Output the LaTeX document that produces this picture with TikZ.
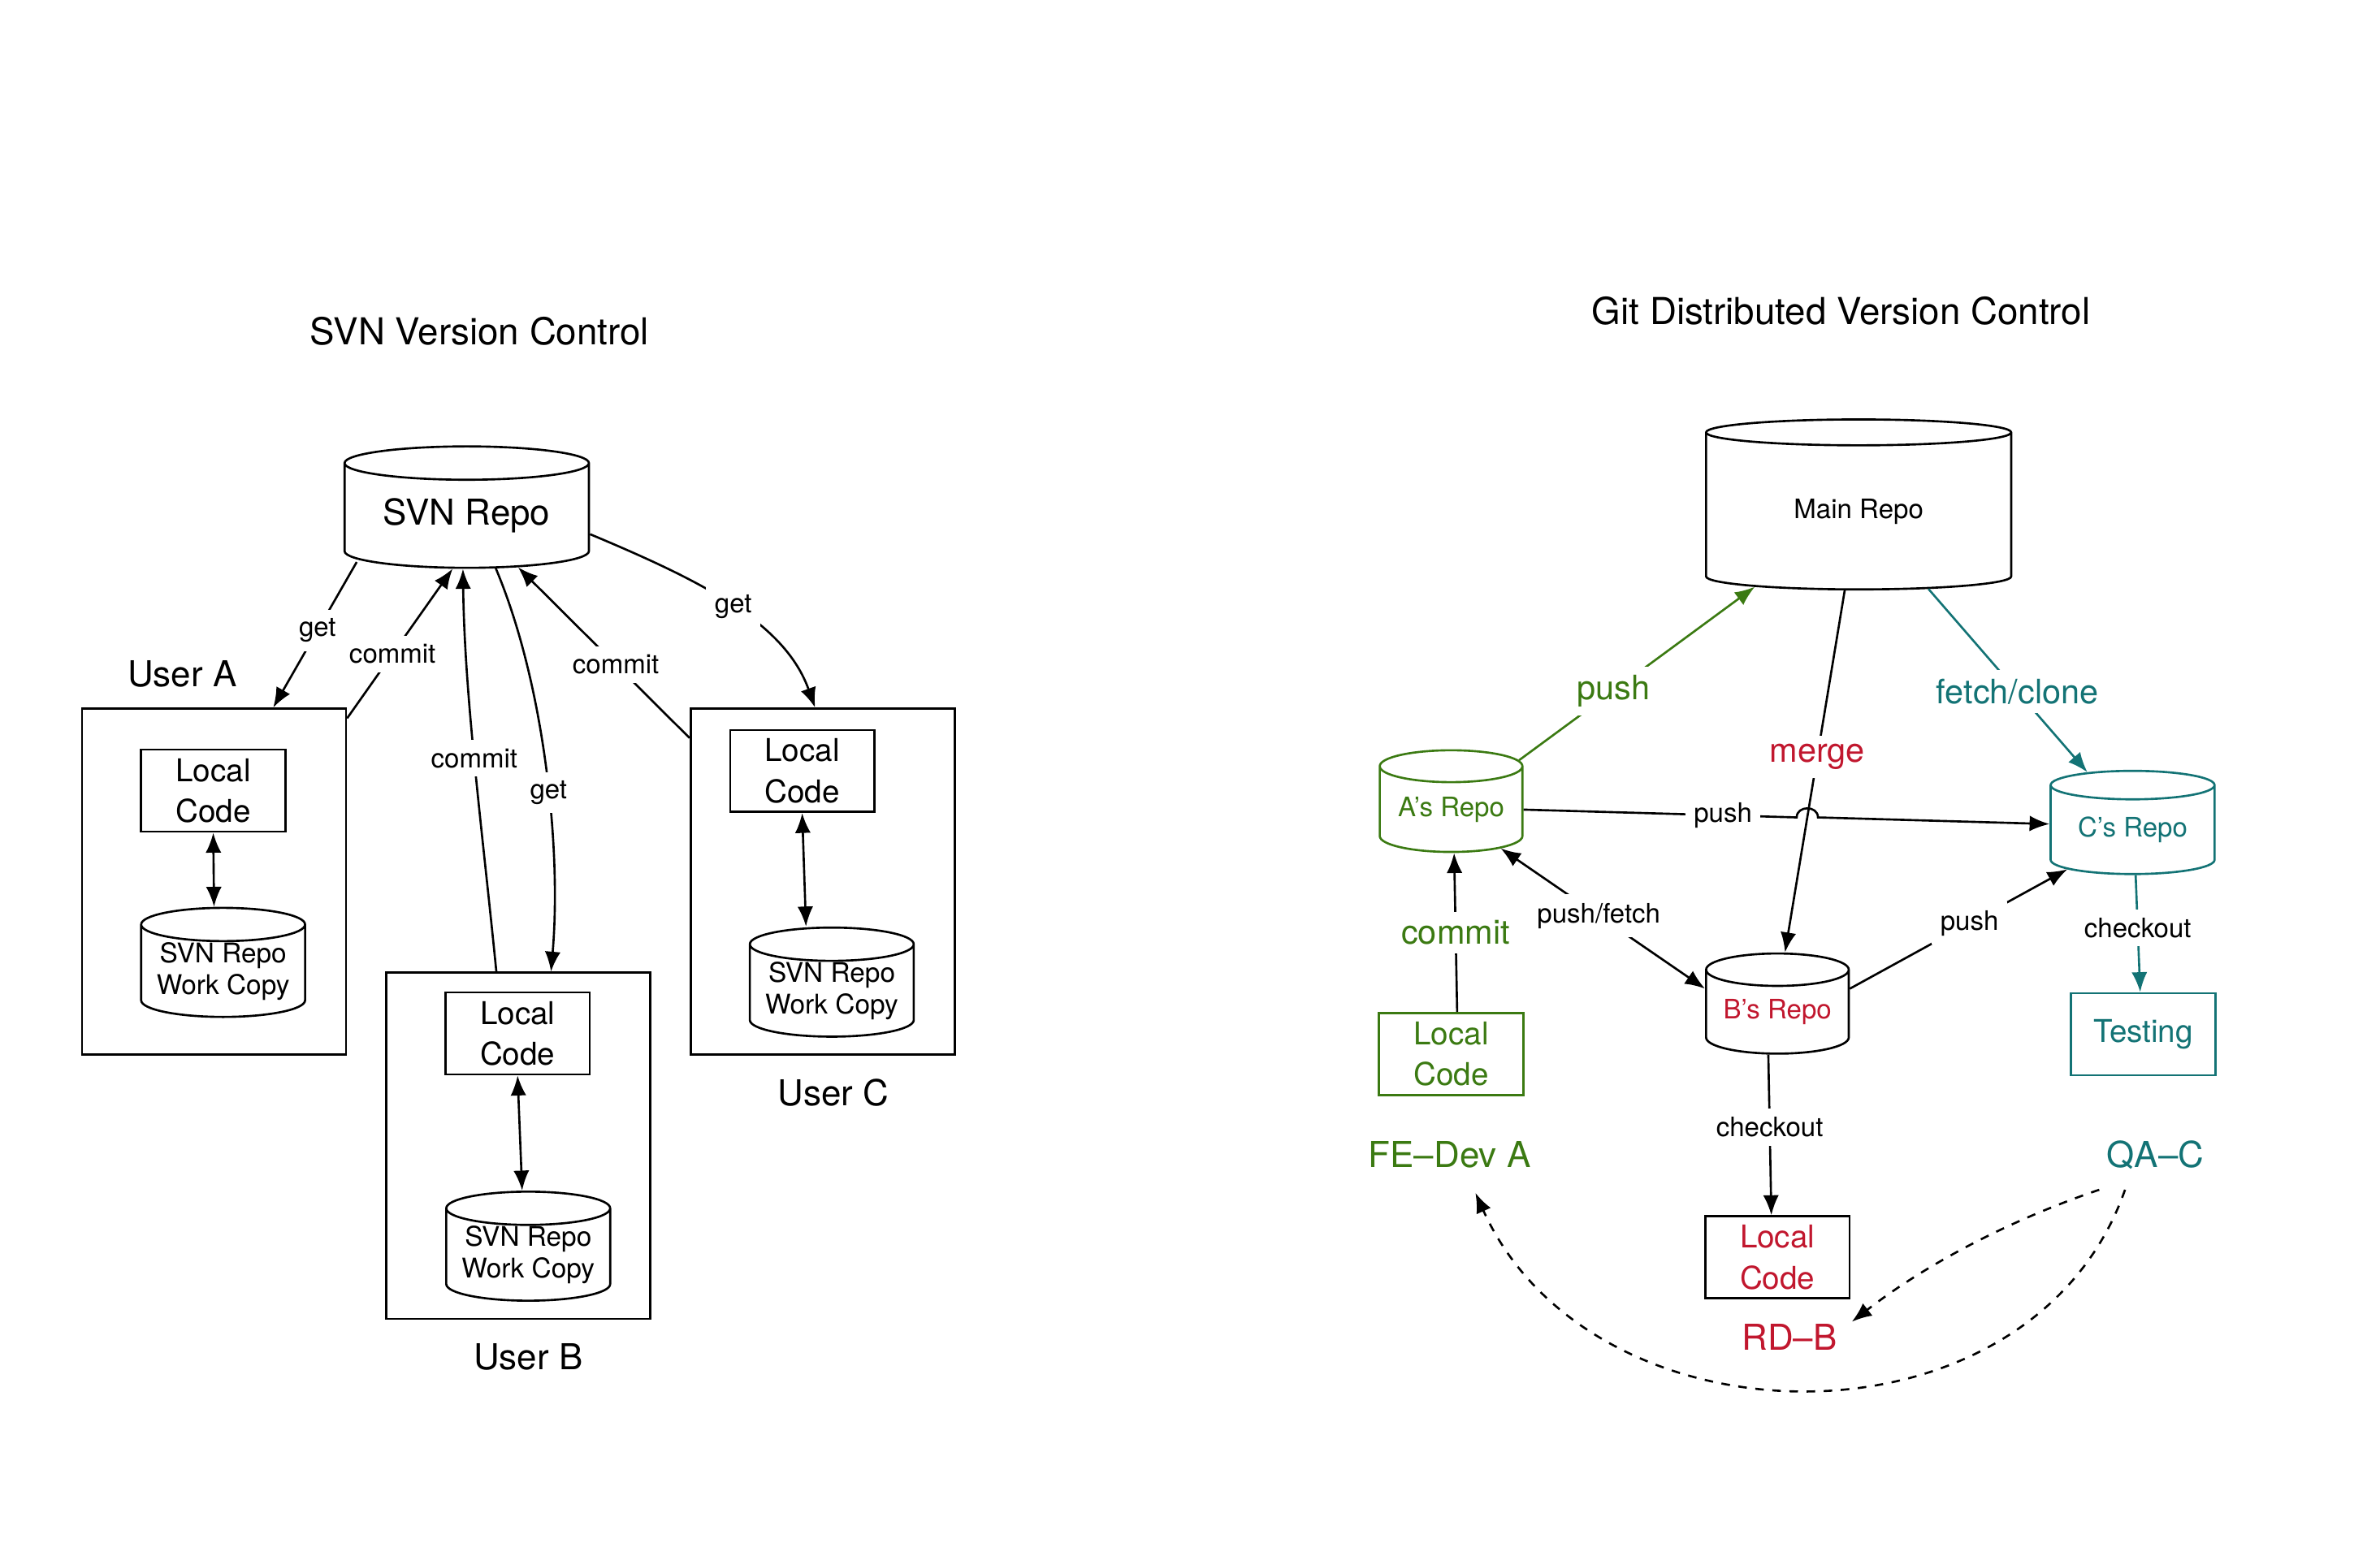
\documentclass[tikz,border=0pt]{standalone}
\usepackage{fontspec}
\setmainfont{TeX Gyre Heros}
\usetikzlibrary{arrows.meta,shapes.geometric,calc}

\definecolor{fegreen}{RGB}{59,122,18}
\definecolor{qateal}{RGB}{19,115,117}
\definecolor{rdred}{RGB}{193,23,46}
\newcommand{\pxu}{0.018686cm}
\newcommand{\fsz}[2]{\fontsize{#1}{#2}\selectfont}

\begin{document}
\begin{tikzpicture}[x=0.018686cm, y=-0.018686cm, line width=0.75pt, >={Latex[length=7pt,width=5.5pt]}]
\tikzstyle{every node}=[inner sep=0pt]
\tikzstyle{box}=[draw, rectangle, align=center]
\tikzstyle{repo}=[draw, cylinder, shape border rotate=90, aspect=0.25, align=center]
\tikzstyle{user}=[box, minimum width=174*\pxu, minimum height=228*\pxu]
\tikzstyle{code}=[box, minimum width=95*\pxu, minimum height=54*\pxu, font=\fsz{11}{14.3}]
\tikzstyle{wcopy}=[repo, minimum width=108*\pxu, minimum height=67*\pxu, font=\fsz{9.5}{11.2}]
\tikzstyle{title}=[font=\fsz{13}{16}]
\tikzstyle{big}=[font=\fsz{12.5}{15}]
\tikzstyle{mid}=[font=\fsz{11.8}{14}]
\tikzstyle{small}=[font=\fsz{9.4}{11}]
\tikzstyle{lbl}=[fill=white, inner sep=3pt]
\useasboundingbox (0,0) rectangle (1568,1025);

% SVN side
\node[title] (tsvn) at (316,218) {SVN Version Control};
\node[repo, big, minimum width=161*\pxu, minimum height=80*\pxu, aspect=0.2] (svn) at (307.5,340) {SVN Repo};

\node[user] (ua) at (141,581) {};
\node[user] (ub) at (341.5,755) {};
\node[user] (uc) at (542,581) {};
\node[big] (nua) at (120,444) {User A};
\node[big] (nub) at (348,894) {User B};
\node[big] (nuc) at (549,720) {User C};

\node[code] (lca) at (140.5,521) {Local\\Code};
\node[code] (lcb) at (341,681) {Local\\Code};
\node[code] (lcc) at (528.5,508) {Local\\Code};
\node[wcopy] (wca) at (147,640) {SVN Repo\\Work Copy};
\node[wcopy] (wcb) at (348,827) {SVN Repo\\Work Copy};
\node[wcopy] (wcc) at (548,653) {SVN Repo\\Work Copy};

\draw[<->] (lca.south) -- ($(wca.north)+(-6,0)$);
\draw[<->] (lcb.south) -- ($(wcb.north)+(-4,0)$);
\draw[<->] (lcc.south) -- ($(wcc.north)+(-17,0)$);

\draw[->] ($(svn.south)+(-72.5,-4.5)$) -- node[lbl,small,pos=.47]{get} ($(ua.north)+(39,0)$);
\draw[->] ($(ua.north east)+(0,7)$) -- node[lbl,small,pos=.43]{commit} (svn.255);
\draw[->] ($(ub.north)+(-14.5,0)$) .. controls +(-9,-91) and +(1,84) .. node[lbl,small,pos=.52]{commit} ($(svn.south)+(-2.5,0)$);
\draw[->] (svn.299) .. controls +(32,76) and +(7,-81) .. node[lbl,small,pos=.56]{get} ($(ub.north)+(21.5,0)$);
\draw[->] ($(uc.north west)+(0,20)$) -- node[lbl,small,pos=.43]{commit} (svn.315);
\draw[->] ($(svn.east)+(0,12)$) .. controls +(74,31) and +(-20,-56) .. node[lbl,small]{get} ($(uc.north)+(-5,0)$);

% Git side
\node[title] (tgit) at (1213,205) {Git Distributed Version Control};
\node[repo, small, minimum width=201*\pxu, minimum height=112*\pxu, aspect=0.2] (main) at (1224.5,337) {Main Repo};
\node[repo, small, fegreen, minimum width=94*\pxu, minimum height=67*\pxu, aspect=0.3] (ar) at (956,533.5) {A's Repo};
\node[repo, small, qateal, minimum width=108*\pxu, minimum height=68*\pxu, aspect=0.26] (cr) at (1405,547) {C's Repo};
\node[repo, small, text=rdred, minimum width=94*\pxu, minimum height=66*\pxu, aspect=0.3] (br) at (1171,667) {B's Repo};
\node[code, fegreen] (lA) at (956,694.5) {Local\\Code};
\node[code, qateal] (test) at (1412,681.5) {Testing};
\node[code, text=rdred] (lB) at (1171,828.5) {Local\\Code};
\node[big, fegreen] (fe) at (955,761) {FE--Dev A};
\node[big, qateal] (qa) at (1420,761) {QA--C};
\node[big, rdred] (rd) at (1179,881) {RD--B};

\draw[->, fegreen] (ar.36) -- node[lbl,mid,pos=.4]{push} (main.216);
\coordinate (m1) at (main.260);
\coordinate (m2) at ($(br.north)+(5,0)$);
\draw[->] (m1) -- node[lbl,mid,text=rdred,pos=.46]{merge} (m2);
\draw[->, qateal] (main.312) -- node[lbl,mid,pos=.56]{fetch/clone} (cr.128);
\coordinate (pc) at ($(cr.west)+(0,-4)$);
\coordinate (jmp) at (intersection of ar.east--pc and m1--m2);
\draw[->] (ar.east) -- node[lbl,small,pos=.73]{push} ($(jmp)+(-7,0)$) .. controls +(0,-8) and +(0,-8) .. ($(jmp)+(7,0)$) -- (pc);
\draw[<->] (ar.322) -- node[lbl,small,pos=.48]{push/fetch} (br.162);
\draw[->] ($(lA.north)+(4,0)$) -- node[lbl,mid,text=fegreen]{commit} ($(ar.south)+(2,0)$);
\draw[->] (br.18) -- node[lbl,small,pos=.55]{push} (cr.211);
\draw[->, qateal] ($(cr.south)+(2,0)$) -- node[lbl,small,text=black,pos=.45]{checkout} ($(test.north)+(-2,0)$);
\draw[->] ($(br.south)+(-6,0)$) -- node[lbl,small,pos=.45]{checkout} ($(lB.north)+(-4,0)$);
\draw[->, dashed] ($(qa)+(-37,23)$) .. controls +(-59,20) and +(49,-38) .. ($(rd)+(41,-10)$);
\draw[->, dashed] ($(qa)+(-20,23)$) .. controls +(-62,177) and +(77,171) .. ($(fe)+(17,25)$);
\end{tikzpicture}
\end{document}
